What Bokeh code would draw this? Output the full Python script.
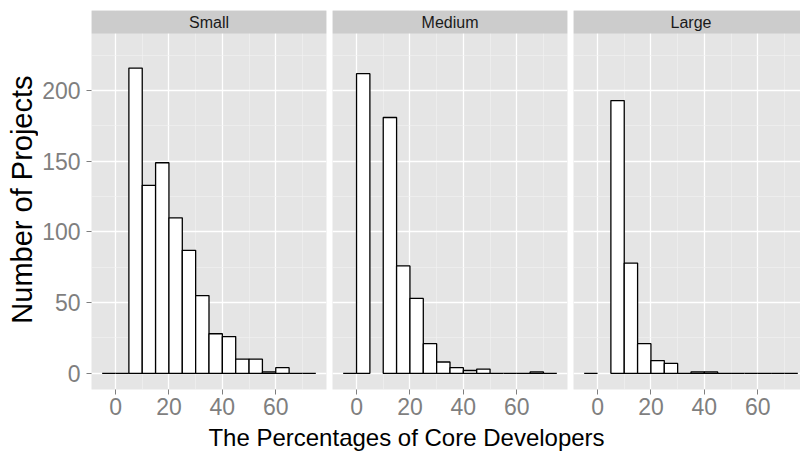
import math
from bokeh.plotting import figure
from bokeh.layouts import row, column
from bokeh.models import FixedTicker, Label, Range1d
from bokeh.embed import file_html
from bokeh.resources import INLINE

FONT = "Liberation Sans"

# Histogram bins (width 5) and project counts per team-size group.
# None marks a bin with no bar drawn at all.
bin_left = [-5, 0, 5, 10, 15, 20, 25, 30, 35, 40, 45, 50, 55, 60, 65, 70]
BIN_WIDTH = 5
panels = ["Small", "Medium", "Large"]
small_counts = [0, 0, 216, 133, 149, 110, 87, 55, 28, 26, 10, 10, 1, 4, 0, 0]
medium_counts = [0, 212, None, 181, 76, 53, 21, 8, 4, 2, 3, 0, 0, 0, 1, 0]
large_counts = [0, None, 193, 78, 21, 9, 7, 0, 1, 1, 0, 0, 0, 0, 0, 0]
counts_by_panel = [small_counts, medium_counts, large_counts]

x_ticks = [0, 20, 40, 60]
x_minor = [10, 30, 50, 70]
y_ticks = [0, 50, 100, 150, 200]
y_minor = [25, 75, 125, 175, 225]

# layout (pixels)
PANEL_W = 235
PANEL_H = 356
STRIP_H = 23
GAP = 6
YTITLE_W = 38
LEFT = 91
TOP = 10
BOTTOM = 34
ROW_H = TOP + STRIP_H + PANEL_H + BOTTOM

X_LO, X_HI = -9.0, 79.0
Y_LO, Y_HI = -11.45, 240.45
units_per_px_y = (Y_HI - Y_LO) / PANEL_H
Y_STRIP_TOP = Y_HI + STRIP_H * units_per_px_y
units_per_px_x = (X_HI - X_LO) / PANEL_W

BG = "#E5E5E5"
STRIP_BG = "#CCCCCC"
TICK_GREY = "#7F7F7F"
TICK_FONT = "23px"


def text_fig(width, height):
    f = figure(width=width, height=height, x_range=Range1d(0, width),
               y_range=Range1d(0, height), toolbar_location=None,
               output_backend="svg", x_axis_location=None,
               y_axis_location=None, min_border=0)
    f.outline_line_color = None
    f.xgrid.visible = False
    f.ygrid.visible = False
    return f


def make_panel(name, counts, frame_w, first, last):
    x_end = X_LO + frame_w * units_per_px_x
    p = figure(
        frame_width=frame_w,
        frame_height=PANEL_H + STRIP_H,
        x_range=Range1d(X_LO, x_end),
        y_range=Range1d(Y_LO, Y_STRIP_TOP),
        toolbar_location=None,
        output_backend="svg",
        y_axis_location="left" if first else None,
        min_border_left=(LEFT - YTITLE_W) if first else 0,
        min_border_right=0 if last else GAP,
        min_border_top=TOP,
        min_border_bottom=BOTTOM,
    )
    p.background_fill_color = BG
    p.border_fill_color = "white"
    p.outline_line_color = None

    # grid
    p.xgrid.ticker = FixedTicker(ticks=x_ticks, minor_ticks=x_minor)
    p.ygrid.ticker = FixedTicker(ticks=y_ticks, minor_ticks=y_minor)
    for g in (p.xgrid[0], p.ygrid[0]):
        g.grid_line_color = "white"
        g.grid_line_width = 1.3
        g.minor_grid_line_color = "#F2F2F2"
        g.minor_grid_line_width = 0.6

    # bars
    lefts, rights, tops = [], [], []
    z0, z1 = [], []
    for l, c in zip(bin_left, counts):
        if c is None:
            continue
        if c > 0:
            lefts.append(l)
            rights.append(l + BIN_WIDTH)
            tops.append(c)
        else:
            z0.append(l)
            z1.append(l + BIN_WIDTH)
    p.quad(left=lefts, right=rights, bottom=0, top=tops,
           fill_color="white", line_color="black", line_width=1.3)
    p.segment(x0=z0, x1=z1, y0=0, y1=0, line_color="black", line_width=1.3)

    # facet strip
    p.quad(left=X_LO, right=x_end, bottom=Y_HI, top=Y_STRIP_TOP,
           fill_color=STRIP_BG, line_color=None)
    p.add_layout(Label(x=X_LO + PANEL_W * units_per_px_x / 2,
                       y=(Y_HI + Y_STRIP_TOP) / 2, text=name,
                       text_align="center", text_baseline="middle",
                       text_font=FONT, text_font_size="16px",
                       text_color="#1A1A1A"))

    # axes
    ax = p.xaxis[0]
    ax.ticker = FixedTicker(ticks=x_ticks)
    ax.axis_line_color = None
    ax.major_tick_line_color = TICK_GREY
    ax.major_tick_out = 5
    ax.major_tick_in = 0
    ax.minor_tick_out = 0
    ax.minor_tick_in = 0
    ax.major_label_standoff = 3
    ax.major_label_text_font = FONT
    ax.major_label_text_font_size = TICK_FONT
    ax.major_label_text_color = TICK_GREY
    if first:
        ay = p.yaxis[0]
        ay.ticker = FixedTicker(ticks=y_ticks)
        ay.axis_line_color = None
        ay.major_tick_line_color = TICK_GREY
        ay.major_tick_out = 5
        ay.major_tick_in = 0
        ay.minor_tick_out = 0
        ay.minor_tick_in = 0
        ay.major_label_standoff = 6
        ay.major_label_text_font = FONT
        ay.major_label_text_font_size = TICK_FONT
        ay.major_label_text_color = TICK_GREY
    return p


# y-axis title, centred on the panel area below the strips
yfig = text_fig(YTITLE_W, ROW_H)
yfig.add_layout(Label(x=21.5, y=BOTTOM + PANEL_H / 2,
                      text="Number of Projects", angle=math.pi / 2,
                      text_align="center", text_baseline="middle",
                      text_font=FONT, text_font_size="29px",
                      text_color="black"))

figs = [yfig]
n = len(panels)
for i, (name, counts) in enumerate(zip(panels, counts_by_panel)):
    if i == n - 1:
        used = LEFT + i * (PANEL_W + GAP)
        frame_w = min(PANEL_W, 800 - used)
    else:
        frame_w = PANEL_W
    figs.append(make_panel(name, counts, frame_w, i == 0, i == n - 1))

title_h = 452 - ROW_H
tfig = text_fig(800, title_h)
tfig.add_layout(Label(x=406, y=title_h - 14, text="The Percentages of Core Developers",
                      text_align="center", text_baseline="middle",
                      text_font=FONT, text_font_size="24px", text_color="black"))

layout = column(row(*figs, spacing=0), tfig, spacing=0)
open("out.html", "w").write(file_html(layout, INLINE))
